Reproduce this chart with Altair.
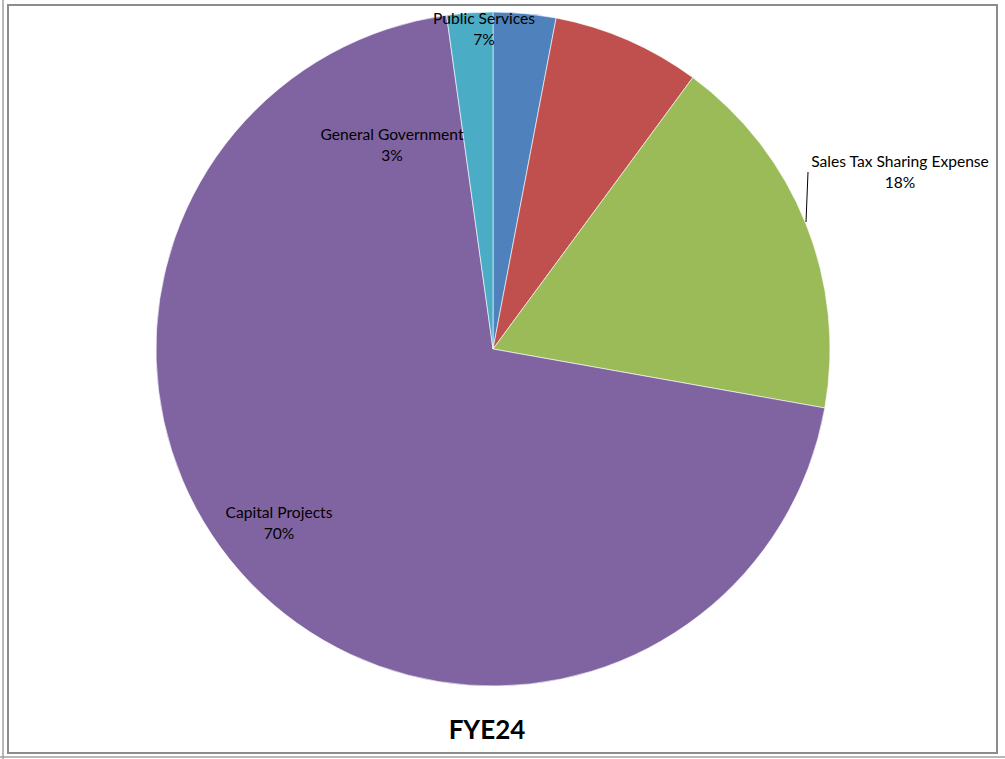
import altair as alt
import pandas as pd

# ---- data ----
categories = ["General Government", "Public Services", "Sales Tax Sharing Expense", "Capital Projects", "Other"]
values = [3.0, 7.1, 17.7, 70.0, 2.2]
colors = ["#4F81BD", "#C0504D", "#9BBB59", "#8064A2", "#4BACC6"]
order = [0, 1, 2, 3, 4]

label_names = ["Public Services", "General Government", "Sales Tax Sharing Expense", "Capital Projects"]
label_pcts = ["7%", "3%", "18%", "70%"]

df = pd.DataFrame({"category": categories, "value": values, "order": order})

# ---- layout (label anchor points, pixels) ----
label_pos = [(484, 19), (392, 135), (900, 162), (279, 513)]
CX, CY, R = 493, 349, 337
W, H = 1005, 759
FONT = "Lato"
FS = 15.6

pie = alt.Chart(df).mark_arc(radius=R, stroke="white", strokeWidth=0.6).encode(
    theta=alt.Theta("value:Q", stack=True),
    order=alt.Order("order:Q"),
    color=alt.Color("category:N", scale=alt.Scale(domain=categories, range=colors), legend=None),
    x=alt.value(CX),
    y=alt.value(CY),
)

layers = [pie]

for name, pct, (lx, ly) in zip(label_names, label_pcts, label_pos):
    t = alt.Chart(pd.DataFrame({"t": [name]})).mark_text(
        font=FONT, fontSize=FS, color="#000000", align="center", baseline="middle"
    ).encode(text="t:N", x=alt.value(lx), y=alt.value(ly))
    p = alt.Chart(pd.DataFrame({"t": [pct]})).mark_text(
        font=FONT, fontSize=FS, color="#000000", align="center", baseline="middle"
    ).encode(text="t:N", x=alt.value(lx), y=alt.value(ly + 21))
    layers += [t, p]

leader = alt.Chart(pd.DataFrame({"a": [0]})).mark_rule(color="#000000", strokeWidth=1).encode(
    x=alt.value(808), y=alt.value(172), x2=alt.value(806), y2=alt.value(222)
)
layers.append(leader)

title = alt.Chart(pd.DataFrame({"t": ["FYE24"]})).mark_text(
    font=FONT, fontSize=26, fontWeight="bold", color="#000000", align="center", baseline="middle"
).encode(text="t:N", x=alt.value(487), y=alt.value(731))
layers.append(title)

frame = alt.Chart(pd.DataFrame({"a": [0]})).mark_rect(
    fill=None, fillOpacity=0, stroke="#8c8c8c", strokeWidth=2
).encode(x=alt.value(8), x2=alt.value(997), y=alt.value(5), y2=alt.value(753))
layers.append(frame)

outer_v = alt.Chart(pd.DataFrame({"a": [0]})).mark_rule(color="#a0a0a0", strokeWidth=1.5).encode(
    x=alt.value(3), y=alt.value(0), y2=alt.value(759)
)
outer_h = alt.Chart(pd.DataFrame({"a": [0]})).mark_rule(color="#a0a0a0", strokeWidth=1.5).encode(
    x=alt.value(0), x2=alt.value(1005), y=alt.value(757)
)
layers += [outer_v, outer_h]

chart = alt.layer(*layers).properties(
    width=W, height=H, padding=0, autosize=alt.AutoSizeParams(type="none"), background="white"
).configure_view(stroke=None)

chart.save("out.html", embed_options={"renderer": "svg", "actions": False})
